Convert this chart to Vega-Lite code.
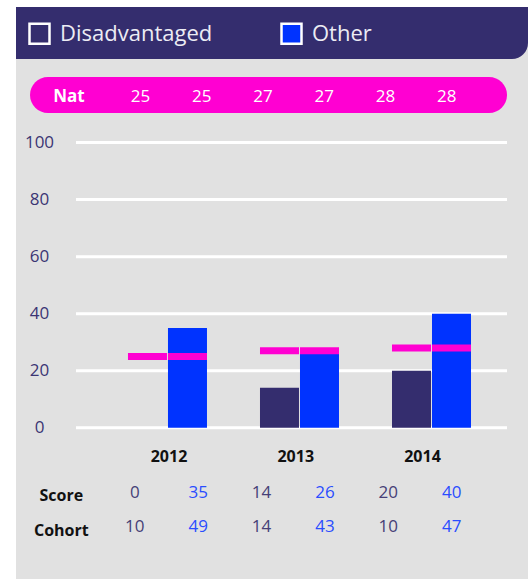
{
  "$schema": "https://vega.github.io/schema/vega-lite/v6.json",
  "width": 512,
  "height": 572,
  "autosize": {"type": "none"},
  "padding": {"left": 16, "top": 7, "right": 0, "bottom": 0},
  "background": "#ffffff",
  "config": {
    "view": {"fill": "#e1e1e1", "stroke": null},
    "font": "Open Sans",
    "text": {"font": "Open Sans"}
  },
  "datasets": {
    "scores": [
      {"year": 2012, "group": "Disadvantaged", "score": 0, "cohort": 10, "nat": 25},
      {"year": 2012, "group": "Other", "score": 35, "cohort": 49, "nat": 25},
      {"year": 2013, "group": "Disadvantaged", "score": 14, "cohort": 14, "nat": 27},
      {"year": 2013, "group": "Other", "score": 26, "cohort": 43, "nat": 27},
      {"year": 2014, "group": "Disadvantaged", "score": 20, "cohort": 10, "nat": 28},
      {"year": 2014, "group": "Other", "score": 40, "cohort": 47, "nat": 28}
    ],
    "gridlines": [{"value": 0}, {"value": 20}, {"value": 40}, {"value": 60}, {"value": 80}, {"value": 100}]
  },
  "resolve": {"scale": {"x": "independent", "xOffset": "independent"}},
  "layer": [
    {
      "data": {"values": [{"part": "header"}]},
      "mark": {"type": "rect", "color": "#342d6e", "cornerRadiusBottomRight": 16},
      "encoding": {
        "y": {
          "datum": 147.5, "type": "quantitative",
          "scale": {"domain": [-53, 147.5], "nice": false, "zero": false},
          "axis": null
        },
        "y2": {"datum": 129.3}
      }
    },
    {
      "data": {"name": "scores"},
      "layer": [
        {
          "data": {"values": [{"part": "nat"}]},
          "mark": {"type": "rect", "color": "#ff00d2", "cornerRadius": 18},
          "encoding": {
            "x": {"datum": 2012, "type": "ordinal", "bandPosition": -0.651, "axis": null, "scale": {"paddingInner": 0, "paddingOuter": 0.5898, "align": 0.6488, "round": false}},
            "x2": {"datum": 2014, "bandPosition": 1.243},
            "y": {"datum": 122.96, "type": "quantitative", "axis": null},
            "y2": {"datum": 110.34}
          }
        },
        {
          "data": {"values": [{"label": "Nat"}]},
          "mark": {"type": "text", "color": "#ffffff", "fontSize": 17, "fontWeight": "bold", "baseline": "middle"},
          "encoding": {
            "x": {"datum": 2012, "type": "ordinal", "bandPosition": -0.333, "axis": null},
            "y": {"datum": 116.05, "type": "quantitative", "axis": null},
            "text": {"field": "label"}
          }
        },
        {
          "mark": {"type": "text", "color": "#ffffff", "fontSize": 17, "baseline": "middle"},
          "encoding": {
            "x": {"field": "year", "type": "ordinal", "axis": null},
            "xOffset": {"field": "group", "scale": {"type": "point", "padding": 0.5}},
            "y": {"datum": 116.05, "type": "quantitative", "axis": null},
            "text": {"field": "nat"}
          }
        }
      ]
    },
    {
      "data": {"name": "scores"},
      "layer": [
        {
          "data": {"name": "gridlines"},
          "mark": {"type": "rule", "color": "#ffffff", "strokeWidth": 3},
          "encoding": {
            "x": {"datum": 2012, "type": "ordinal", "bandPosition": -0.658, "axis": null, "scale": {"paddingInner": 0.4015, "paddingOuter": 0.64, "align": 0.6627, "round": false}},
            "x2": {"datum": 2014, "bandPosition": 1.456},
            "y": {"field": "value", "type": "quantitative", "axis": null}
          }
        },
        {
          "data": {"name": "gridlines"},
          "mark": {"type": "text", "color": "#3b3574", "fontSize": 17, "align": "center", "baseline": "middle"},
          "encoding": {
            "x": {"datum": 2012, "type": "ordinal", "bandPosition": -1.12, "axis": null},
            "y": {"field": "value", "type": "quantitative", "axis": null},
            "text": {"field": "value"}
          }
        },
        {
          "mark": {"type": "bar"},
          "encoding": {
            "x": {"field": "year", "type": "ordinal", "axis": null},
            "xOffset": {"field": "group", "scale": {"paddingInner": 0.025, "paddingOuter": 0}},
            "y": {"field": "score", "type": "quantitative", "axis": null},
            "color": {
              "field": "group", "type": "nominal",
              "scale": {"domain": ["Disadvantaged", "Other"], "range": ["#342d6e", "#0033ff"]},
              "legend": {
                "title": null, "orient": "none", "legendX": 12, "legendY": 15, "direction": "horizontal", "padding": 0,
                "symbolType": "square", "symbolSize": 400, "symbolStrokeColor": "#ffffff", "symbolStrokeWidth": 2.5,
                "labelFontSize": 22, "labelColor": "#ececf4", "labelFont": "Open Sans", "labelLimit": 300,
                "labelOffset": 9, "columnPadding": 63,
                "encode": {"symbols": {"update": {"stroke": {"value": "#ffffff"}, "strokeWidth": {"value": 2.5}}}}
              }
            }
          }
        },
        {
          "mark": {"type": "tick", "color": "#ff00d2", "thickness": 7, "size": 39, "opacity": 1},
          "encoding": {
            "x": {"field": "year", "type": "ordinal", "axis": null},
            "xOffset": {"field": "group"},
            "y": {"field": "nat", "type": "quantitative", "axis": null}
          }
        }
      ]
    },
    {
      "data": {"name": "scores"},
      "layer": [
        {
          "transform": [{"aggregate": [], "groupby": ["year"]}],
          "mark": {"type": "text", "color": "#111111", "fontSize": 16, "fontWeight": "bold", "baseline": "middle"},
          "encoding": {
            "x": {"field": "year", "type": "ordinal", "axis": null, "bandPosition": 0.52, "scale": {"paddingInner": 0, "paddingOuter": 0.52, "align": 0.661, "round": false}},
            "y": {"datum": -10.3, "type": "quantitative", "axis": null},
            "text": {"field": "year"}
          }
        },
        {
          "mark": {"type": "text", "fontSize": 17, "baseline": "middle"},
          "encoding": {
            "x": {"field": "year", "type": "ordinal", "axis": null},
            "xOffset": {"field": "group", "scale": {"type": "point", "padding": 0.5}},
            "y": {"datum": -22.8, "type": "quantitative", "axis": null},
            "text": {"field": "score"},
            "color": {"condition": {"test": "datum.group === 'Other'", "value": "#2a4dff"}, "value": "#464077"}
          }
        },
        {
          "mark": {"type": "text", "fontSize": 17, "baseline": "middle"},
          "encoding": {
            "x": {"field": "year", "type": "ordinal", "axis": null},
            "xOffset": {"field": "group"},
            "y": {"datum": -34.7, "type": "quantitative", "axis": null},
            "text": {"field": "cohort"},
            "color": {"condition": {"test": "datum.group === 'Other'", "value": "#2a4dff"}, "value": "#464077"}
          }
        },
        {
          "data": {"values": [{"label": "Score"}]},
          "mark": {"type": "text", "color": "#111111", "fontSize": 16, "fontWeight": "bold", "baseline": "middle"},
          "encoding": {
            "x": {"datum": 2012, "type": "ordinal", "bandPosition": -0.33, "axis": null},
            "y": {"datum": -24.0, "type": "quantitative", "axis": null},
            "text": {"field": "label"}
          }
        },
        {
          "data": {"values": [{"label": "Cohort"}]},
          "mark": {"type": "text", "color": "#111111", "fontSize": 16, "fontWeight": "bold", "baseline": "middle"},
          "encoding": {
            "x": {"datum": 2012, "type": "ordinal", "bandPosition": -0.33, "axis": null},
            "y": {"datum": -36.1, "type": "quantitative", "axis": null},
            "text": {"field": "label"}
          }
        }
      ]
    }
  ]
}
